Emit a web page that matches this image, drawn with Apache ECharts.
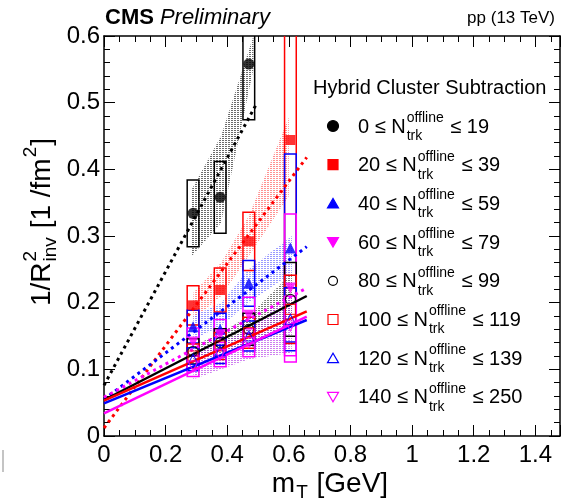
<!DOCTYPE html>
<html>
<head>
<meta charset="utf-8">
<script src="https://cdn.jsdelivr.net/npm/echarts@6/dist/echarts.min.js"></script>
<style>
  html, body { margin: 0; background: #fff; }
  #chart { width: 566px; height: 503px; }
</style>
</head>
<body>
<div id="chart"></div>
<script>
// m_T bins [GeV]
const mT = [0.289, 0.377, 0.470, 0.605]

// 1/R_inv^2 [1/fm^2] per multiplicity class
const nLow = [0, 20, 40, 60, 80, 100, 120, 140]
const nHigh = [19, 39, 59, 79, 99, 119, 139, 250]
const v0 = [0.334, 0.358, 0.558, null]
const v1 = [0.196, 0.219, 0.292, 0.444]
const v2 = [0.164, 0.160, 0.229, 0.282]
const v3 = [0.141, 0.152, 0.181, 0.222]
const v4 = [0.127, 0.140, 0.160, 0.205]
const v5 = [0.120, 0.135, 0.155, 0.190]
const v6 = [0.115, 0.128, 0.150, 0.175]
const v7 = [0.105, 0.122, 0.140, 0.165]

// relative systematic uncertainty (boxes)
const sysFilled = [0.15, 0.15, 0.15, 0.50]
const sysOpen = [0.15, 0.15, 0.15, 0.27]

// linear fits: [x0, y0, x1, y1]
const fit0 = [0, 0.076, 0.497, 0.500]
const fit1 = [0, 0.012, 0.658, 0.418]
const fit2 = [0, 0.055, 0.658, 0.284]
const fit3 = [0, 0.058, 0.658, 0.222]
const fit4 = [0, 0.054, 0.658, 0.210]
const fit5 = [0, 0.053, 0.658, 0.187]
const fit6 = [0, 0.049, 0.658, 0.174]
const fit7 = [0, 0.034, 0.658, 0.179]

// hatched bands: x, lower edge, upper edge
const band0X = [0.285, 0.380, 0.485]
const band0Lo = [0.270, 0.320, 0.550]
const band0Hi = [0.370, 0.450, 0.600]
const band1X = [0.290, 0.380, 0.470, 0.600]
const band1Lo = [0.175, 0.210, 0.270, 0.360]
const band1Hi = [0.215, 0.260, 0.330, 0.478]
const band2X = [0.290, 0.380, 0.470, 0.610]
const band2Lo = [0.145, 0.165, 0.200, 0.245]
const band2Hi = [0.180, 0.200, 0.250, 0.300]
const band4X = [0.290, 0.380, 0.470, 0.610]
const band4Lo = [0.110, 0.125, 0.140, 0.165]
const band4Hi = [0.135, 0.155, 0.180, 0.245]
const band7X = [0.290, 0.380, 0.470, 0.610]
const band7Lo = [0.085, 0.100, 0.115, 0.125]
const band7Hi = [0.125, 0.140, 0.160, 0.215]

const BLACK = '#000000'
const RED = '#ff0000'
const BLUE = '#0000ff'
const MAGENTA = '#ff00ff'
const FONT = '"Liberation Sans", Arial, Helvetica, sans-serif'
const INV_TRI = 'path://M0,0 L10,0 L5,9 Z'
const BOX_HALF = 0.019

const groups = [
  { vals: v0, color: BLACK, symbol: 'circle', size: 11, open: false, fit: fit0, dash: true },
  { vals: v1, color: RED, symbol: 'rect', size: 10, open: false, fit: fit1, dash: true },
  { vals: v2, color: BLUE, symbol: 'triangle', size: 11, open: false, fit: fit2, dash: true },
  { vals: v3, color: MAGENTA, symbol: INV_TRI, size: 11, open: false, fit: fit3, dash: true },
  { vals: v4, color: BLACK, symbol: 'circle', size: 10, open: true, fit: fit4, dash: false },
  { vals: v5, color: RED, symbol: 'rect', size: 10, open: true, fit: fit5, dash: false },
  { vals: v6, color: BLUE, symbol: 'triangle', size: 10, open: true, fit: fit6, dash: false },
  { vals: v7, color: MAGENTA, symbol: INV_TRI, size: 10, open: true, fit: fit7, dash: false }
]

const bands = [
  { x: band0X, lo: band0Lo, hi: band0Hi, ink: 'rgba(70,70,70,0.8)' },
  { x: band1X, lo: band1Lo, hi: band1Hi, ink: 'rgba(255,100,100,0.7)' },
  { x: band2X, lo: band2Lo, hi: band2Hi, ink: 'rgba(100,100,255,0.65)' },
  { x: band4X, lo: band4Lo, hi: band4Hi, ink: 'rgba(70,70,70,0.7)' },
  { x: band7X, lo: band7Lo, hi: band7Hi, ink: 'rgba(180,60,230,0.65)' }
]

// horizontal hatch pattern
function hatch (ink) {
  const c = document.createElement('canvas')
  c.width = 3
  c.height = 2
  const g = c.getContext('2d')
  g.fillStyle = ink
  g.fillRect(0, 0, 2, 1)
  return { image: c, repeat: 'repeat' }
}

const mctx = document.createElement('canvas').getContext('2d')
function textWidth (s, size, style) {
  mctx.font = (style || '') + ' ' + size + 'px ' + FONT
  return mctx.measureText(s).width
}

// text with stacked super/subscripts, y is middle line
function latex (segs, x, y, size, scr, supDy, subDy) {
  const out = []
  let cx = x
  segs.forEach(s => {
    if (s.t) {
      out.push({ type: 'text', x: cx, y: y, style: { text: s.t, font: size + 'px ' + FONT, fill: '#000', verticalAlign: 'middle' } })
      cx += textWidth(s.t, size)
    }
    let w = 0
    if (s.sup) {
      out.push({ type: 'text', x: cx + 1, y: y - supDy, style: { text: s.sup, font: scr + 'px ' + FONT, fill: '#000', verticalAlign: 'middle' } })
      w = Math.max(w, textWidth(s.sup, scr) + 2)
    }
    if (s.sub) {
      out.push({ type: 'text', x: cx + 1, y: y + subDy, style: { text: s.sub, font: scr + 'px ' + FONT, fill: '#000', verticalAlign: 'middle' } })
      w = Math.max(w, textWidth(s.sub, scr) + 2)
    }
    cx += w
  })
  return { els: out, width: cx - x }
}

function markerShape (g, cx, cy) {
  const fill = g.open ? 'none' : g.color
  const st = { fill: fill, stroke: g.color, lineWidth: 1.2 }
  if (g.symbol === 'circle') return { type: 'circle', shape: { cx: cx, cy: cy, r: g.open ? 4.5 : 5.5 }, style: st }
  if (g.symbol === 'rect') return { type: 'rect', shape: { x: cx - 5, y: cy - 5, width: 10, height: 10 }, style: st }
  if (g.symbol === 'triangle') return { type: 'polygon', shape: { points: [[cx - 5.5, cy + 4.5], [cx + 5.5, cy + 4.5], [cx, cy - 5]] }, style: st }
  return { type: 'polygon', shape: { points: [[cx - 5.5, cy - 4.5], [cx + 5.5, cy - 4.5], [cx, cy + 5]] }, style: st }
}

const series = []

bands.forEach(b => {
  series.push({
    type: 'custom',
    xAxisIndex: 0,
    yAxisIndex: 0,
    clip: true,
    silent: true,
    z: 1,
    data: [0],
    renderItem (params, api) {
      const pts = []
      b.x.forEach((x, i) => pts.push(api.coord([x, b.lo[i]])))
      for (let i = b.x.length - 1; i >= 0; i--) pts.push(api.coord([b.x[i], b.hi[i]]))
      return { type: 'polygon', shape: { points: pts }, style: { fill: hatch(b.ink), stroke: 'none' } }
    }
  })
})

groups.forEach(g => {
  const sys = g.open ? sysOpen : sysFilled
  const boxes = []
  const pts = []
  g.vals.forEach((v, i) => {
    if (v === null) return
    boxes.push([mT[i], v, v * (1 - sys[i]), v * (1 + sys[i])])
    pts.push([mT[i], v])
  })
  series.push({
    type: 'custom',
    clip: true,
    silent: true,
    z: 3,
    data: boxes,
    renderItem (params, api) {
      const x = api.value(0)
      const p1 = api.coord([x - BOX_HALF, api.value(3)])
      const p2 = api.coord([x + BOX_HALF, api.value(2)])
      return {
        type: 'rect',
        shape: { x: p1[0], y: p1[1], width: p2[0] - p1[0], height: p2[1] - p1[1] },
        style: { fill: 'none', stroke: g.color, lineWidth: 1.5 }
      }
    }
  })
  series.push({
    type: 'line',
    silent: true,
    z: 4,
    symbol: 'none',
    data: [[g.fit[0], g.fit[1]], [g.fit[2], g.fit[3]]],
    lineStyle: { color: g.color, width: g.dash ? 3 : 2.5, type: g.dash ? [3, 4] : 'solid' }
  })
  series.push({
    type: 'scatter',
    silent: true,
    z: 5,
    symbol: g.symbol,
    symbolSize: g.size,
    data: pts,
    itemStyle: g.open
      ? { color: 'rgba(0,0,0,0)', borderColor: g.color, borderWidth: 1.2 }
      : { color: g.color, borderWidth: 0 }
  })
})

const graphic = []

// header
graphic.push({ type: 'text', x: 105, y: 18, style: { text: 'CMS', font: 'bold 22px ' + FONT, fill: '#000', verticalAlign: 'middle' } })
graphic.push({ type: 'text', x: 105 + textWidth('CMS', 22, 'bold') + 6, y: 18, style: { text: 'Preliminary', font: 'italic 22px ' + FONT, fill: '#000', verticalAlign: 'middle' } })
graphic.push({ type: 'text', x: 555, y: 18, style: { text: 'pp (13 TeV)', font: '17px ' + FONT, fill: '#000', align: 'right', verticalAlign: 'middle' } })

// legend
graphic.push({ type: 'text', x: 313, y: 88, style: { text: 'Hybrid Cluster Subtraction', font: '20px ' + FONT, fill: '#000', verticalAlign: 'middle' } })
groups.forEach((g, i) => {
  const y = 127 + i * 38.7
  graphic.push(markerShape(g, 333, y - 1))
  const t = latex([{ t: nLow[i] + ' ≤ N', sup: 'offline', sub: 'trk' }, { t: ' ≤ ' + nHigh[i] }], 358, y, 20, 14, 9, 9)
  t.els.forEach(e => graphic.push(e))
})

// x axis title
const xt = latex([{ t: 'm', sub: 'T' }, { t: ' [GeV]' }], 0, 0, 28, 19, 11, 9)
graphic.push({ type: 'group', x: 330 - xt.width / 2, y: 484, children: xt.els })

// y axis title
const yt = latex([{ t: '1/R', sup: '2', sub: 'inv' }, { t: ' [1 /fm' }, { sup: '2' }, { t: ']' }], 0, 0, 28, 19, 11, 9)
graphic.push({ type: 'group', x: 42, y: 222 + yt.width / 2, rotation: Math.PI / 2, children: yt.els })

graphic.push({ type: 'line', shape: { x1: 3, y1: 450, x2: 3, y2: 472 }, style: { stroke: '#b0b0b0', lineWidth: 1.5 } })

const tickLabel = { color: '#000', fontFamily: FONT, fontSize: 24 }
const lineBlack = { color: '#000', width: 1.5 }

function xAxisDef (top) {
  return {
    type: 'value',
    position: top ? 'top' : 'bottom',
    min: 0,
    max: 1.48,
    interval: 0.2,
    axisLine: { onZero: false, lineStyle: lineBlack },
    axisTick: { inside: true, length: 11, lineStyle: { color: '#000', width: 1 } },
    minorTick: { show: true, splitNumber: 4, length: 6, lineStyle: { color: '#000', width: 1 } },
    splitLine: { show: false },
    axisLabel: top ? { show: false } : Object.assign({ margin: 7, showMaxLabel: false, formatter: v => String(Math.round(v * 10) / 10) }, tickLabel)
  }
}
function yAxisDef (right) {
  return {
    type: 'value',
    position: right ? 'right' : 'left',
    min: 0,
    max: 0.6,
    interval: 0.1,
    axisLine: { show: true, onZero: false, lineStyle: lineBlack },
    axisTick: { show: true, inside: true, length: 11, lineStyle: { color: '#000', width: 1 } },
    minorTick: { show: true, splitNumber: 5, length: 6, lineStyle: { color: '#000', width: 1 } },
    splitLine: { show: false },
    axisLabel: right ? { show: false } : Object.assign({ margin: 4, formatter: v => String(Math.round(v * 10) / 10) }, tickLabel)
  }
}

const option = {
  animation: false,
  backgroundColor: '#fff',
  grid: { left: 104, right: 6, top: 36, bottom: 67, containLabel: false },
  xAxis: [xAxisDef(false), xAxisDef(true)],
  yAxis: [yAxisDef(false), yAxisDef(true)],
  graphic: graphic,
  series: series
}

const chart = echarts.init(document.getElementById('chart'))
chart.setOption(option)
</script>
</body>
</html>
